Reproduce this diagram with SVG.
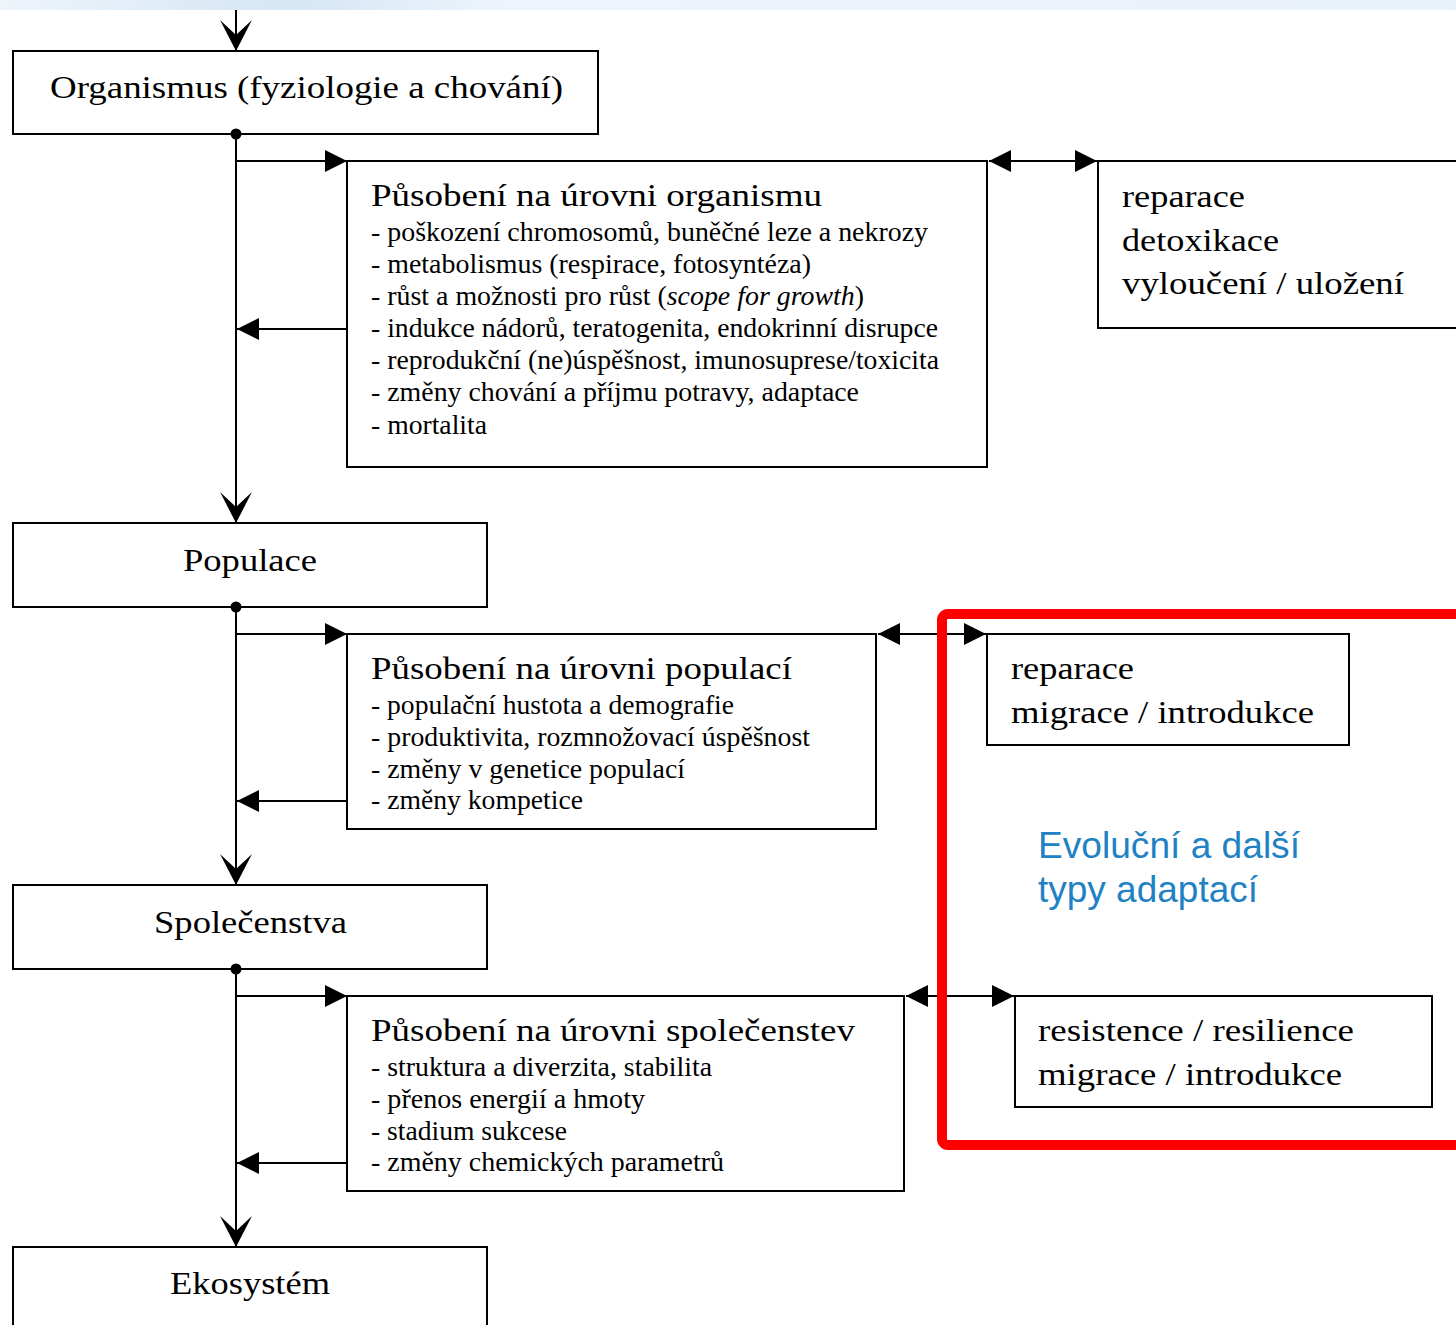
<svg xmlns="http://www.w3.org/2000/svg" width="1456" height="1325" viewBox="0 0 1456 1325">
<style>
.box{fill:#fff;stroke:#000;stroke-width:2}
.ln{stroke:#000;stroke-width:2;fill:none}
.lvl{font-family:"Liberation Serif",serif;font-size:32px;fill:#000}
.ttl{font-family:"Liberation Serif",serif;font-size:31px;fill:#000}
.itm{font-family:"Liberation Serif",serif;font-size:27px;fill:#000}
.adp{font-family:"Liberation Serif",serif;font-size:31px;fill:#000}
.blue{font-family:"Liberation Sans",Arial,sans-serif;font-size:36px;fill:#1e82c4}
</style>
<defs>
<linearGradient id="band" x1="0" y1="0" x2="1" y2="0">
<stop offset="0" stop-color="#eef4fa"/>
<stop offset="0.2" stop-color="#d5e6f5"/>
<stop offset="0.35" stop-color="#eef4fb"/>
<stop offset="1" stop-color="#e9f1f9"/>
</linearGradient>
<marker id="tri" viewBox="0 0 22 22" markerUnits="userSpaceOnUse" markerWidth="22" markerHeight="22" refX="22" refY="11" orient="auto-start-reverse">
<path d="M0,0 L22,11 L0,22 z" fill="#000"/>
</marker>
<marker id="vee" viewBox="0 0 31 32" markerUnits="userSpaceOnUse" markerWidth="31" markerHeight="32" refX="31" refY="16" orient="auto">
<path d="M0,0 L31,16 L0,32 L15,16 z" fill="#000"/>
</marker>
</defs>
<rect x="0" y="0" width="1456" height="10" fill="url(#band)"/>
<rect x="0" y="10" width="1456" height="1315" fill="#fff"/>

<g id="organismus">
<rect class="box" x="13" y="51" width="585" height="83"/>
<text class="lvl" x="50" y="98" textLength="513" lengthAdjust="spacingAndGlyphs">Organismus (fyziologie a chování)</text>
</g>

<g id="pusobeni-organismus">
<rect class="box" x="347" y="161" width="640" height="306"/>
<text class="ttl" x="371" y="206" textLength="451" lengthAdjust="spacingAndGlyphs">Působení na úrovni organismu</text>
<text class="itm" x="371" y="241" textLength="557" lengthAdjust="spacingAndGlyphs">- poškození chromosomů, buněčné leze a nekrozy</text>
<text class="itm" x="371" y="273" textLength="440" lengthAdjust="spacingAndGlyphs">- metabolismus (respirace, fotosyntéza)</text>
<text class="itm" x="371" y="305" textLength="493" lengthAdjust="spacingAndGlyphs">- růst a možnosti pro růst (<tspan font-style="italic">scope for growth</tspan>)</text>
<text class="itm" x="371" y="337" textLength="567" lengthAdjust="spacingAndGlyphs">- indukce nádorů, teratogenita, endokrinní disrupce</text>
<text class="itm" x="371" y="369" textLength="568" lengthAdjust="spacingAndGlyphs">- reprodukční (ne)úspěšnost, imunosuprese/toxicita</text>
<text class="itm" x="371" y="401" textLength="488" lengthAdjust="spacingAndGlyphs">- změny chování a příjmu potravy, adaptace</text>
<text class="itm" x="371" y="434" textLength="116" lengthAdjust="spacingAndGlyphs">- mortalita</text>
</g>

<g id="reakce-organismus">
<rect class="box" x="1098" y="161" width="370" height="167"/>
<text class="adp" x="1122" y="207" textLength="123" lengthAdjust="spacingAndGlyphs">reparace</text>
<text class="adp" x="1122" y="251" textLength="157" lengthAdjust="spacingAndGlyphs">detoxikace</text>
<text class="adp" x="1122" y="294" textLength="282" lengthAdjust="spacingAndGlyphs">vyloučení / uložení</text>
</g>

<g id="populace">
<rect class="box" x="13" y="523" width="474" height="84"/>
<text class="lvl" x="183" y="571" textLength="134" lengthAdjust="spacingAndGlyphs">Populace</text>
</g>

<g id="pusobeni-populace">
<rect class="box" x="347" y="634" width="529" height="195"/>
<text class="ttl" x="371" y="679" textLength="421" lengthAdjust="spacingAndGlyphs">Působení na úrovni populací</text>
<text class="itm" x="371" y="714" textLength="363" lengthAdjust="spacingAndGlyphs">- populační hustota a demografie</text>
<text class="itm" x="371" y="746" textLength="439" lengthAdjust="spacingAndGlyphs">- produktivita, rozmnožovací úspěšnost</text>
<text class="itm" x="371" y="778" textLength="314" lengthAdjust="spacingAndGlyphs">- změny v genetice populací</text>
<text class="itm" x="371" y="809" textLength="212" lengthAdjust="spacingAndGlyphs">- změny kompetice</text>
</g>

<g id="reakce-populace">
<rect class="box" x="987" y="634" width="362" height="111"/>
<text class="adp" x="1011" y="679" textLength="123" lengthAdjust="spacingAndGlyphs">reparace</text>
<text class="adp" x="1011" y="723" textLength="303" lengthAdjust="spacingAndGlyphs">migrace / introdukce</text>
</g>

<g id="spolecenstva">
<rect class="box" x="13" y="885" width="474" height="84"/>
<text class="lvl" x="154" y="933" textLength="193" lengthAdjust="spacingAndGlyphs">Společenstva</text>
</g>

<g id="pusobeni-spolecenstva">
<rect class="box" x="347" y="996" width="557" height="195"/>
<text class="ttl" x="371" y="1041" textLength="484" lengthAdjust="spacingAndGlyphs">Působení na úrovni společenstev</text>
<text class="itm" x="371" y="1076" textLength="341" lengthAdjust="spacingAndGlyphs">- struktura a diverzita, stabilita</text>
<text class="itm" x="371" y="1108" textLength="274" lengthAdjust="spacingAndGlyphs">- přenos energií a hmoty</text>
<text class="itm" x="371" y="1140" textLength="196" lengthAdjust="spacingAndGlyphs">- stadium sukcese</text>
<text class="itm" x="371" y="1171" textLength="353" lengthAdjust="spacingAndGlyphs">- změny chemických parametrů</text>
</g>

<g id="reakce-spolecenstva">
<rect class="box" x="1015" y="996" width="417" height="111"/>
<text class="adp" x="1038" y="1041" textLength="316" lengthAdjust="spacingAndGlyphs">resistence / resilience</text>
<text class="adp" x="1038" y="1085" textLength="304" lengthAdjust="spacingAndGlyphs">migrace / introdukce</text>
</g>

<g id="ekosystem">
<rect class="box" x="13" y="1247" width="474" height="100"/>
<text class="lvl" x="170" y="1294" textLength="160" lengthAdjust="spacingAndGlyphs">Ekosystém</text>
</g>

<g id="connectors">
<line class="ln" x1="236" y1="10" x2="236" y2="51" marker-end="url(#vee)"/>
<line class="ln" x1="236" y1="134" x2="236" y2="523" marker-end="url(#vee)"/>
<line class="ln" x1="236" y1="607" x2="236" y2="885" marker-end="url(#vee)"/>
<line class="ln" x1="236" y1="969" x2="236" y2="1247" marker-end="url(#vee)"/>
<circle cx="236" cy="134" r="5.5" fill="#000"/>
<circle cx="236" cy="607" r="5.5" fill="#000"/>
<circle cx="236" cy="969" r="5.5" fill="#000"/>
<polyline class="ln" points="236,161 347,161" marker-end="url(#tri)"/>
<polyline class="ln" points="347,329 237,329" marker-end="url(#tri)"/>
<polyline class="ln" points="236,634 347,634" marker-end="url(#tri)"/>
<polyline class="ln" points="347,801 237,801" marker-end="url(#tri)"/>
<polyline class="ln" points="236,996 347,996" marker-end="url(#tri)"/>
<polyline class="ln" points="347,1163 237,1163" marker-end="url(#tri)"/>
<line class="ln" x1="989" y1="161" x2="1097" y2="161" marker-start="url(#tri)" marker-end="url(#tri)"/>
<line class="ln" x1="878" y1="634" x2="986" y2="634" marker-start="url(#tri)" marker-end="url(#tri)"/>
<line class="ln" x1="906" y1="996" x2="1014" y2="996" marker-start="url(#tri)" marker-end="url(#tri)"/>
</g>

<g id="adaptace">
<rect x="942" y="614" width="600" height="531" rx="6" fill="none" stroke="#ff0000" stroke-width="10"/>
<text class="blue" x="1038" y="858" textLength="262" lengthAdjust="spacingAndGlyphs">Evoluční a další</text>
<text class="blue" x="1038" y="902" textLength="220" lengthAdjust="spacingAndGlyphs">typy adaptací</text>
</g>
</svg>
